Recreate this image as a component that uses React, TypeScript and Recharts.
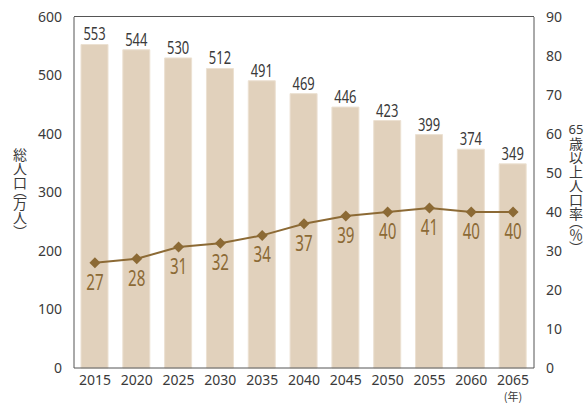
import * as React from "react";
import {
  Bar,
  ComposedChart,
  LabelList,
  Line,
  XAxis,
  YAxis,
} from "recharts";

// 年次
const years = ["2015", "2020", "2025", "2030", "2035", "2040", "2045", "2050", "2055", "2060", "2065"];
// 総人口（万人）
const population = [553, 544, 530, 512, 491, 469, 446, 423, 399, 374, 349];
// 65歳以上人口率（%）
const elderlyRate = [27, 28, 31, 32, 34, 37, 39, 40, 41, 40, 40];

const leftTicks = [0, 100, 200, 300, 400, 500, 600];
const rightTicks = [0, 10, 20, 30, 40, 50, 60, 70, 80, 90];

const BAR_COLOR = "#e1d1bc";
const LINE_COLOR = "#8c6a35";
const TEXT_COLOR = "#3a3a3a";
const AXIS_COLOR = "#555";
const TICK_FONT = '"Noto Sans", "DejaVu Sans", sans-serif';
const JP_FONT = '"Noto Sans CJK JP", sans-serif';

const data = years.map((year, i) => ({
  year,
  population: population[i],
  rate: elderlyRate[i],
}));

const Diamond = (props: any) => {
  const { cx, cy } = props;
  if (cx == null || cy == null) return null;
  const r = 5.5;
  return (
    <path
      d={`M${cx},${cy - r}L${cx + r},${cy}L${cx},${cy + r}L${cx - r},${cy}Z`}
      fill={LINE_COLOR}
    />
  );
};

// 縦長の数字ラベル（横方向に圧縮）
const narrowLabel = (color: string, size: number, dy: number) => (props: any) => {
  const { x, y, width, value } = props;
  const cx = width != null ? x + width / 2 : x;
  return (
    <text
      transform={`translate(${cx},${y + dy}) scale(0.72,1)`}
      textAnchor="middle"
      fontSize={size}
      fontFamily={TICK_FONT}
      fill={color}
    >
      {value}
    </text>
  );
};

const XTick = (props: any) => {
  const { x, y, payload, index } = props;
  return (
    <g>
      <text x={x} y={y + 9} textAnchor="middle" fontSize={14} fontFamily={TICK_FONT} fill={TEXT_COLOR}>
        {payload.value}
      </text>
      {index === years.length - 1 && (
        <text x={x} y={y + 25} textAnchor="middle" fontSize={11} fontFamily={JP_FONT} fill={TEXT_COLOR}>
          (年)
        </text>
      )}
    </g>
  );
};

export default function App() {
  return (
    <div style={{ position: "absolute", left: 0, top: 0, width: 585, height: 403, background: "#fff" }}>
      <ComposedChart
        width={585}
        height={403}
        data={data}
        margin={{ top: 17, right: 0, bottom: 0, left: 0 }}
      >
        <XAxis
          dataKey="year"
          height={35}
          tickLine={false}
          axisLine={{ stroke: AXIS_COLOR }}
          tick={<XTick />}
          interval={0}
        />
        <YAxis
          yAxisId="left"
          width={74}
          domain={[0, 600]}
          ticks={leftTicks}
          tickLine={false}
          axisLine={{ stroke: AXIS_COLOR }}
          tick={{ fontSize: 14, fill: TEXT_COLOR, fontFamily: TICK_FONT }}
          tickMargin={6}
        />
        <YAxis
          yAxisId="right"
          orientation="right"
          width={51}
          domain={[0, 90]}
          ticks={rightTicks}
          tickLine={false}
          axisLine={{ stroke: AXIS_COLOR }}
          tick={{ fontSize: 14, fill: TEXT_COLOR, fontFamily: TICK_FONT }}
          tickMargin={6}
        />
        <Bar
          yAxisId="left"
          dataKey="population"
          fill={BAR_COLOR}
          stroke="#ece1d2"
          strokeWidth={1}
          barSize={27}
          isAnimationActive={false}
        >
          <LabelList dataKey="population" content={narrowLabel(TEXT_COLOR, 18, -4)} />
        </Bar>
        <Line
          yAxisId="right"
          dataKey="rate"
          stroke={LINE_COLOR}
          strokeWidth={2}
          dot={<Diamond />}
          activeDot={false}
          isAnimationActive={false}
        >
          <LabelList dataKey="rate" content={narrowLabel(LINE_COLOR, 21, 27)} />
        </Line>
      </ComposedChart>
      {/* 上端の枠線 */}
      <div
        style={{
          position: "absolute",
          left: 74,
          top: 16,
          width: 460,
          height: 1,
          background: AXIS_COLOR,
        }}
      />
      <div
        style={{
          position: "absolute",
          left: 12,
          top: 148,
          writingMode: "vertical-rl",
          textOrientation: "mixed",
          fontSize: 14,
          lineHeight: "16px",
          color: TEXT_COLOR,
          fontFamily: JP_FONT,
          fontFeatureSettings: '"vpal"',
        }}
      >
        総人口（万人）
      </div>
      <div
        style={{
          position: "absolute",
          left: 567,
          top: 122,
          width: 18,
          textAlign: "center",
          fontSize: 13,
          lineHeight: "14px",
          color: TEXT_COLOR,
          fontFamily: TICK_FONT,
        }}
      >
        65
      </div>
      <div
        style={{
          position: "absolute",
          left: 568,
          top: 137,
          writingMode: "vertical-rl",
          textOrientation: "mixed",
          fontSize: 14,
          lineHeight: "16px",
          color: TEXT_COLOR,
          fontFamily: JP_FONT,
          fontFeatureSettings: '"vpal"',
        }}
      >
        歳以上人口率（％）
      </div>
    </div>
  );
}
